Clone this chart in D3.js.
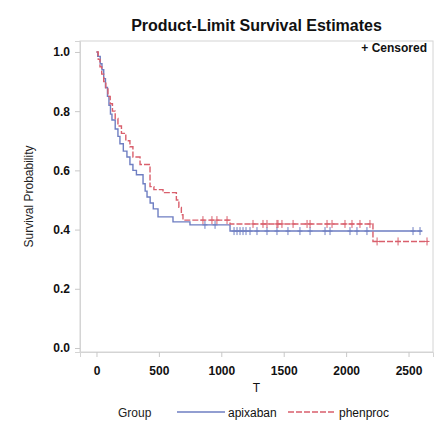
<!DOCTYPE html>
<html>
<head>
<meta charset="utf-8">
<script src="https://cdn.jsdelivr.net/npm/d3@7"></script>
<style>
  html, body { margin: 0; padding: 0; background: #fff; }
  svg { display: block; font-family: "Liberation Sans", Arial, sans-serif; }
</style>
</head>
<body>
<svg id="chart" width="438" height="436"></svg>
<script>
// Kaplan-Meier step estimates: [time, survival after that time]
const apixabanSteps = [
  [0, 1.0], [10, 0.985], [30, 0.96], [44, 0.94], [58, 0.91], [72, 0.88], [88, 0.85],
  [100, 0.82], [112, 0.79], [124, 0.77], [150, 0.74], [172, 0.715], [188, 0.69],
  [215, 0.665], [244, 0.645], [268, 0.62], [292, 0.60], [320, 0.585], [373, 0.555],
  [390, 0.53], [405, 0.51], [430, 0.49], [455, 0.47], [493, 0.443], [613, 0.426],
  [749, 0.416], [1070, 0.395]
];
const apixabanEnd = 2609;
const phenprocSteps = [
  [0, 1.0], [14, 0.975], [28, 0.95], [42, 0.925], [58, 0.9], [75, 0.875], [92, 0.85],
  [110, 0.825], [128, 0.80], [150, 0.775], [172, 0.75], [200, 0.725], [235, 0.70],
  [268, 0.68], [292, 0.645], [349, 0.62], [429, 0.545], [460, 0.535], [533, 0.525],
  [640, 0.50], [660, 0.475], [680, 0.45], [693, 0.432], [1070, 0.419], [2215, 0.36]
];
const phenprocEnd = 2656;

// Censoring times
const apixabanCensored = [869, 950, 1102, 1126, 1150, 1174, 1198, 1230, 1286, 1366, 1446,
  1534, 1630, 1711, 1831, 1871, 2031, 2087, 2167, 2536, 2592];
const phenprocCensored = [853, 925, 965, 1046, 1254, 1334, 1366, 1446, 1454, 1486, 1575,
  1687, 1711, 1847, 1887, 1991, 2047, 2111, 2191, 2248, 2416, 2648];

const groupNames = ["apixaban", "phenproc"];
const xTicks = [0, 500, 1000, 1500, 2000, 2500];
const yTicks = [0, 0.2, 0.4, 0.6, 0.8, 1.0];

const colors = { apixaban: "#6e7ec2", phenproc: "#d95f6c" };
const dashes = { apixaban: null, phenproc: "6,2" };

const svg = d3.select("#chart");
const plot = { left: 80, right: 433, top: 41, bottom: 352 };

const x = d3.scaleLinear().domain([-132, 2696]).range([plot.left, plot.right]);
const y = d3.scaleLinear().domain([-0.0135, 1.037]).range([plot.bottom, plot.top]);

// Title
svg.append("text")
  .attr("x", (plot.left + plot.right) / 2).attr("y", 31)
  .attr("text-anchor", "middle")
  .attr("font-size", 16).attr("font-weight", "bold").attr("fill", "#111")
  .text("Product-Limit Survival Estimates");

// Frame
svg.append("rect")
  .attr("x", plot.left).attr("y", plot.top)
  .attr("width", plot.right - plot.left).attr("height", plot.bottom - plot.top)
  .attr("fill", "none").attr("stroke", "#d4d4d4");

// Axes
const yAxis = svg.append("g")
  .attr("transform", `translate(${plot.left},0)`)
  .call(d3.axisLeft(y).tickValues(yTicks).tickFormat(d3.format(".1f")).tickSize(5).tickPadding(5));
const xAxis = svg.append("g")
  .attr("transform", `translate(0,${plot.bottom})`)
  .call(d3.axisBottom(x).tickValues(xTicks).tickFormat(d3.format("d")).tickSize(5).tickPadding(9));
[xAxis, yAxis].forEach(g => {
  g.select(".domain").attr("stroke", "#d4d4d4");
  g.selectAll(".tick line").attr("stroke", "#c8c8c8");
  g.selectAll(".tick text").attr("font-size", 12).attr("font-weight", "bold")
    .attr("fill", "#111").attr("font-family", "Liberation Sans, Arial, sans-serif");
});

// Axis titles
svg.append("text")
  .attr("x", (plot.left + plot.right) / 2).attr("y", 392)
  .attr("text-anchor", "middle").attr("font-size", 12).attr("fill", "#111")
  .text("T");
svg.append("text")
  .attr("transform", `translate(33,${(plot.top + plot.bottom) / 2}) rotate(-90)`)
  .attr("text-anchor", "middle").attr("font-size", 12).attr("fill", "#222")
  .text("Survival Probability");

// Survival curves
const line = d3.line().x(d => x(d[0])).y(d => y(d[1])).curve(d3.curveStepAfter);
function survivalAt(steps, t) {
  let s = steps[0][1];
  for (const [time, v] of steps) { if (time <= t) s = v; }
  return s;
}
const series = [
  { name: "apixaban", steps: apixabanSteps, end: apixabanEnd, cens: apixabanCensored },
  { name: "phenproc", steps: phenprocSteps, end: phenprocEnd, cens: phenprocCensored }
];
series.forEach(s => {
  const pts = s.steps.concat([[s.end, s.steps[s.steps.length - 1][1]]]);
  svg.append("path")
    .attr("d", line(pts))
    .attr("fill", "none")
    .attr("stroke", colors[s.name])
    .attr("stroke-width", 1.4)
    .attr("stroke-dasharray", dashes[s.name]);
  const sym = d3.symbol().type(d3.symbolCross);
  svg.append("g").selectAll("path")
    .data(s.cens)
    .join("path")
    .attr("transform", t => `translate(${x(t)},${y(survivalAt(s.steps, t))})`)
    .attr("d", "M0,-4V4M-2.5,0H2.5")
    .attr("stroke", colors[s.name])
    .attr("stroke-width", 1)
    .attr("fill", "none");
});

// Censored legend
svg.append("text")
  .attr("x", 427).attr("y", 52)
  .attr("text-anchor", "end").attr("font-size", 12).attr("font-weight", "bold").attr("fill", "#111")
  .text("+ Censored");

// Group legend
const leg = svg.append("g").attr("font-size", 12).attr("fill", "#111");
leg.append("text").attr("x", 118).attr("y", 417).attr("fill", "#222").text("Group");
let lx = 177;
groupNames.forEach(name => {
  leg.append("line")
    .attr("x1", lx).attr("x2", lx + 48).attr("y1", 412).attr("y2", 412)
    .attr("stroke", colors[name]).attr("stroke-width", 1.4)
    .attr("stroke-dasharray", dashes[name]);
  leg.append("text").attr("x", lx + 51).attr("y", 417).text(name);
  lx += 111;
});
</script>
</body>
</html>
